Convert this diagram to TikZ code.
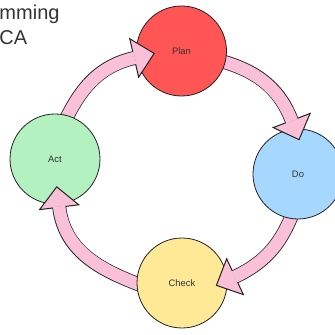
\documentclass[tikz,border=0pt]{standalone}
\usepackage{fontspec}
\setmainfont{Liberation Sans}
\usetikzlibrary{calc}

\definecolor{planfill}{HTML}{FF5555}
\definecolor{dofill}{HTML}{A6D8FF}
\definecolor{checkfill}{HTML}{FFE996}
\definecolor{actfill}{HTML}{B3F2C0}
\definecolor{arrowpink}{HTML}{FAC0D8}
\definecolor{outline}{HTML}{222222}
\definecolor{labeltext}{HTML}{333333}

\pgfdeclarelayer{back}
\pgfdeclarelayer{front}
\pgfsetlayers{back,main,front}

\tikzset{
  stage/.style={circle, minimum size=90pt, inner sep=0pt, draw=outline,
    line width=0.8pt, text=labeltext, font=\fontsize{9.4}{11}\selectfont},
  titletext/.style={inner sep=0pt, text=labeltext,
    font=\fontsize{20}{24}\selectfont},
  shaftline/.style={draw=outline, line width=14pt},
  shaftfill/.style={draw=arrowpink, line width=12.4pt},
  headshape/.style={fill=arrowpink, draw=outline, line width=1pt, line join=miter},
}

% Block arrow between two stages:
% #1 source, #2 exit angle on source, #3 leaving direction,
% #4 target, #5 head base relative to target centre, #6 head direction
\newcommand\cyclearrow[6]{%
  \pgfmathsetmacro\arrowin{#6+180}%
  \coordinate (arrow-s) at ($(#1)+(#2:45)+(#3+180:12)$);
  \coordinate (arrow-b) at ($(#4)+(#5)$);
  \draw[shaftline] (arrow-s) to[out=#3,in=\arrowin] (arrow-b);
  \filldraw[headshape] ($(arrow-b)+(#6+90:19.75)$) -- ($(arrow-b)+(#6:20.5)$)
    -- ($(arrow-b)+(#6-90:19.75)$) -- cycle;
  \draw[shaftfill] (arrow-s) to[out=#3,in=\arrowin] ($(arrow-b)+(#6:0.8)$);
}

\begin{document}
\begin{tikzpicture}[x=1pt,y=1pt]
  \useasboundingbox (0,0) rectangle (335,335);

  % title
  \node[titletext, anchor=base] (title-a) at (-0.5,315) {Programming};
  \node[titletext, anchor=base] (title-b) at (-0.5,290) {PDCA};

  % the four stages
  \node[stage, fill=planfill]  (plan)  at (181.5,284) {Plan};
  \node[stage, fill=dofill]    (do)    at (298,161)   {Do};
  \node[stage, fill=checkfill] (check) at (182,52)    {Check};
  \node[stage, fill=actfill]   (act)   at (55,176)    {Act};

  % arrows leave from under their source
  \begin{pgfonlayer}{back}
    \cyclearrow{plan}{-14}{-14}{do}{-6.3,53.5}{-69}
    \cyclearrow{do}{-99}{-110}{check}{53,6.3}{-155}
    \cyclearrow{check}{181}{160}{act}{4.2,-48.2}{97}
    \cyclearrow{act}{74}{65}{plan}{-47.3,-7}{13}
  \end{pgfonlayer}

  % arrow heads lie over their target
  \begin{pgfonlayer}{front}
    \begin{scope}
      \clip (do) circle (46);
      \cyclearrow{plan}{-14}{-14}{do}{-6.3,53.5}{-69}
    \end{scope}
    \begin{scope}
      \clip (check) circle (46);
      \cyclearrow{do}{-99}{-110}{check}{53,6.3}{-155}
    \end{scope}
    \begin{scope}
      \clip (act) circle (46);
      \cyclearrow{check}{181}{160}{act}{4.2,-48.2}{97}
    \end{scope}
    \begin{scope}
      \clip (plan) circle (46);
      \cyclearrow{act}{74}{65}{plan}{-47.3,-7}{13}
    \end{scope}
  \end{pgfonlayer}
\end{tikzpicture}
\end{document}
